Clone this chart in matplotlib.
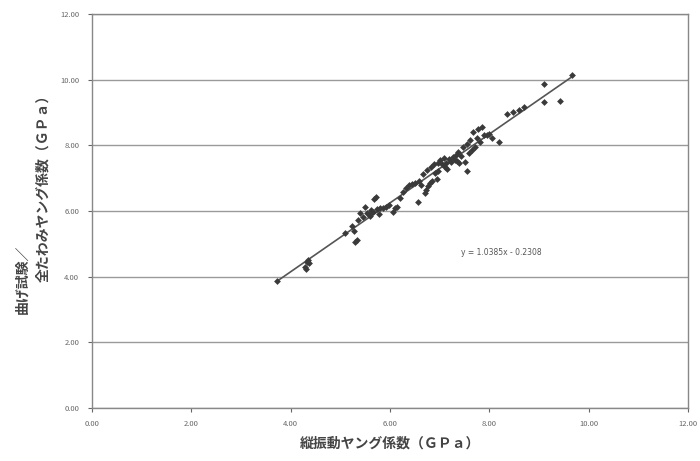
import numpy as np
import matplotlib.pyplot as plt

plt.rcParams['font.family'] = ['Noto Sans CJK JP', 'DejaVu Sans']

# 縦振動ヤング係数 (GPa)
x_vib = [3.72, 4.30, 4.33, 4.36, 4.38, 4.32, 5.09, 5.23, 5.27, 5.30, 5.34, 5.35,
         5.39, 5.45, 5.50, 5.53, 5.58, 5.62, 5.66, 5.69, 5.72, 5.75, 5.80, 5.86,
         5.92, 5.98, 6.06, 6.10, 6.14, 6.20, 6.26, 6.32, 6.38, 6.45, 6.50, 6.56,
         6.58, 6.62, 6.66, 6.70, 6.72, 6.74, 6.76, 6.80, 6.82, 6.84, 6.88, 6.90,
         6.94, 6.96, 7.00, 7.04, 7.08, 7.12, 7.15, 7.18, 7.22, 7.26, 7.30, 7.34,
         7.38, 7.40, 7.44, 7.48, 7.52, 7.55, 7.56, 7.60, 7.62, 7.66, 7.68, 7.72,
         7.75, 7.78, 7.82, 7.86, 7.90, 7.96, 8.00, 8.05, 8.20, 8.35, 8.48, 8.60,
         8.70, 9.11, 9.11, 9.43, 9.66, 5.60, 5.78, 6.96, 7.10, 7.36]
# 曲げ試験 全たわみヤング係数 (GPa)
y_bend = [3.88, 4.30, 4.45, 4.52, 4.42, 4.22, 5.33, 5.55, 5.40, 5.06, 5.10, 5.72,
          5.95, 5.82, 6.13, 5.95, 5.90, 6.04, 5.98, 6.36, 6.43, 6.05, 6.08, 6.10,
          6.12, 6.18, 5.98, 6.08, 6.12, 6.40, 6.58, 6.70, 6.78, 6.82, 6.86, 6.28,
          6.90, 6.80, 7.13, 6.55, 6.65, 7.25, 6.75, 6.85, 7.35, 6.92, 7.42, 7.15,
          6.98, 7.47, 7.55, 7.43, 7.60, 7.45, 7.28, 7.57, 7.50, 7.63, 7.55, 7.70,
          7.80, 7.45, 7.67, 7.95, 7.50, 7.20, 8.05, 7.75, 8.15, 7.85, 8.40, 7.95,
          8.23, 8.50, 8.10, 8.55, 8.32, 8.30, 8.35, 8.22, 8.11, 8.95, 9.00, 9.08,
          9.15, 9.85, 9.33, 9.36, 10.15, 5.85, 5.92, 7.22, 7.35, 7.52]

eq_label = 'y = 1.0385x - 0.2308'

fig = plt.figure(figsize=(7, 4.61), dpi=100)
ax = fig.add_axes([0.131, 0.115, 0.852, 0.855])

# 近似直線 (最小二乗)
b1, b0 = np.polyfit(x_vib, y_bend, 1)
xl = np.array([min(x_vib), max(x_vib)])
ax.plot(xl, b1 * xl + b0, color='#555555', lw=1.2, zorder=2)
ax.scatter(x_vib, y_bend, marker='D', s=12, color='#3a3a3a', zorder=3, linewidths=0)

ax.set_xlim(0, 12)
ax.set_ylim(0, 12)
ax.set_xticks(np.arange(0, 13, 2))
ax.set_yticks(np.arange(0, 13, 2))
ax.set_xticklabels(['%.2f' % v for v in np.arange(0, 13, 2)])
ax.set_yticklabels(['%.2f' % v for v in np.arange(0, 13, 2)])
ax.tick_params(labelsize=5.5, colors='#666666', length=3, width=0.8, pad=6)
ax.yaxis.grid(True, color='#9a9a9a', lw=1.0)
ax.set_axisbelow(True)
for s in ax.spines.values():
    s.set_color('#888888')
    s.set_linewidth(1.0)

ax.text(7.44, 4.65, eq_label, fontsize=5.5, color='#555555', family='DejaVu Sans')

ax.set_xlabel('縦振動ヤング係数（ＧＰａ）', fontsize=10, color='#444444',
              fontweight='bold', labelpad=6)
fig.text(22 / 700, 1 - 279 / 461, '曲げ試験／', rotation=90, fontsize=10,
         color='#444444', fontweight='bold', ha='center', va='center')
fig.text(43 / 700, 1 - 185 / 461, '全たわみヤング係数（ＧＰａ）', rotation=90,
         fontsize=10, color='#444444', fontweight='bold', ha='center', va='center')

fig.savefig('out.png', dpi=100)
